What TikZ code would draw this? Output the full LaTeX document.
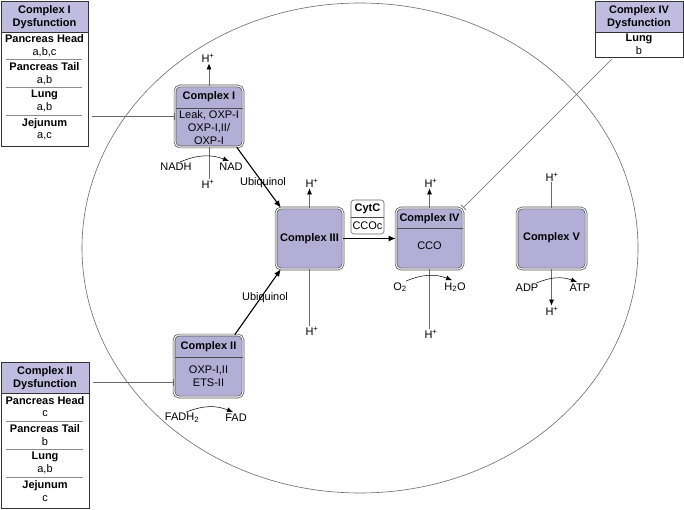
\documentclass[tikz,border=0pt]{standalone}
\usepackage{fontspec}
\setmainfont{Liberation Sans}
\usepackage{tikz}
\usetikzlibrary{positioning,arrows.meta}

\definecolor{cplxfill}{RGB}{179,174,213}
\definecolor{hdrfill}{RGB}{192,188,224}
\definecolor{linegray}{RGB}{105,105,105}

\tikzset{
  txt/.style={font=\fontsize{11}{13}\selectfont, inner sep=1pt},
  bold/.style={font=\fontsize{11}{13}\selectfont\bfseries, inner sep=1pt},
  cplx/.style={draw=black!70, double=white, double distance=1.1pt, line width=0.7pt, fill=cplxfill, rounded corners=5pt, inner sep=0pt},
  tab/.style={draw=black!80, line width=0.6pt, fill=white, inner sep=0pt},
  sep/.style={draw=black!70, line width=0.5pt},
  tabsep/.style={draw=black!45, line width=0.8pt},
  flow/.style={-{Latex[length=7pt,width=6pt]}, line width=1.1pt},
  hplus/.style={-{Latex[length=6pt,width=5pt,color=black]}, linegray, line width=0.6pt},
  hline/.style={linegray, line width=0.6pt},
  inhib/.style={-{Bar[width=7pt]}, linegray, line width=0.6pt},
  swap/.style={-{Latex[length=6pt,width=5pt]}, black, line width=0.5pt},
}

\begin{document}
\begin{tikzpicture}[x=1pt,y=-1pt]
\useasboundingbox (0,0) rectangle (684,510);

\draw[linegray, line width=0.6pt] (360,248) ellipse [x radius=278, y radius=245]; % membrane

% complexes
\node[cplx, minimum width=68pt, minimum height=61pt] (c1) at (209,116.5) {};
\node[cplx, minimum width=69pt, minimum height=62pt] (c2) at (208.5,366) {};
\node[cplx, minimum width=67pt, minimum height=61pt] (c3) at (309.5,238.5) {};
\node[cplx, minimum width=67pt, minimum height=61pt] (c4) at (429.5,238.5) {};
\node[cplx, minimum width=69pt, minimum height=61pt] (c5) at (551.5,238.5) {};
\draw[sep] (175.5,108) -- (242.5,108); % Complex I header
\draw[sep] (174.5,357) -- (242.5,357); % Complex II header
\draw[sep] (396.5,228) -- (462.5,228); % Complex IV header
\node[bold] (c1t) at (209,97) {Complex I};
\node[txt, align=center] (c1b) at (209,127.5) {Leak, OXP-I\\OXP-I,II/\\OXP-I};
\node[bold] (c2t) at (208.5,346.5) {Complex II};
\node[txt, align=center] (c2b) at (208.5,376) {OXP-I,II\\ETS-II};
\node[bold] (c3t) at (309.5,238.5) {Complex III};
\node[bold] (c4t) at (429.5,219) {Complex IV};
\node[txt] (c4b) at (429.5,246) {CCO};
\node[bold] (c5t) at (551.5,238) {Complex V};

% cytochrome c
\node[draw=black!60, line width=0.6pt, fill=white, rounded corners=3pt, minimum width=33pt, minimum height=34pt] (cytc) at (367.5,217) {};
\draw[sep] (351,217) -- (384,217);
\node[bold] (cytct) at (367.5,209) {CytC};
\node[txt] (cytcb) at (367.5,226) {CCOc};

% electron flow
\draw[flow] (c1.-48) -- (c3.133);
\draw[flow] (c2.50) -- (c3.227);
\draw[flow] (c3.east) -- (c4.west);
\node[txt] (ubq1) at (263,183) {Ubiquinol};
\node[txt] (ubq2) at (265,298) {Ubiquinol};

% Complex I
\node[txt] (h1o) at (208,58) {H\textsuperscript{+}};
\draw[hplus] (c1.north) -- (c1.north |- h1o.south);
\node[txt] (h1i) at (208,184) {H\textsuperscript{+}};
\draw[hline] (c1.south) -- (c1.south |- h1i.north);
\node[txt] (nadh) at (176,167) {NADH};
\node[txt] (nad) at (231,167) {NAD};
\draw[swap] ([xshift=4pt]nadh.north) to[bend left=22] ([shift={(-2pt,1pt)}]nad.north);

% Complex II
\node[txt] (fadh) at (182,418) {FADH\textsubscript{2}};
\node[txt] (fad) at (236,418) {FAD};
\draw[swap] ([xshift=4pt]fadh.north) to[bend left=22] ([shift={(-3pt,1pt)}]fad.north);

% Complex III
\node[txt] (h3o) at (312,183) {H\textsuperscript{+}};
\draw[hplus] (c3.north) -- (c3.north |- h3o.south);
\node[txt] (h3i) at (312,331) {H\textsuperscript{+}};
\draw[hline] (c3.south) -- (c3.south |- h3i.north);

% Complex IV
\node[txt] (h4o) at (431,183) {H\textsuperscript{+}};
\draw[hplus] (c4.north) -- (c4.north |- h4o.south);
\node[txt] (h4i) at (431,334) {H\textsuperscript{+}};
\draw[hline] (c4.south) -- (c4.south |- h4i.north);
\node[txt] (o2) at (400,287) {O\textsubscript{2}};
\node[txt] (h2o) at (455,287) {H\textsubscript{2}O};
\draw[swap] ([xshift=-2pt]o2.north east) to[bend left=22] ([shift={(-3pt,1pt)}]h2o.north);

% Complex V
\node[txt] (h5o) at (552,177) {H\textsuperscript{+}};
\draw[hline] (c5.north) -- (c5.north |- h5o.south);
\node[txt] (h5i) at (552,311) {H\textsuperscript{+}};
\draw[hplus] (c5.south) -- (c5.south |- h5i.north);
\node[txt] (adp) at (527,288) {ADP};
\node[txt] (atp) at (580,288) {ATP};
\draw[swap] ([xshift=-3pt]adp.north east) to[bend left=22] ([shift={(-3pt,1pt)}]atp.north);

% Complex I dysfunction table
\node[tab, minimum width=87pt, minimum height=145pt] (tab1) at (44.5,73.5) {};
\draw[tab, fill=hdrfill] (1,1) rectangle (88,32);
\node[bold, align=center] (tab1h) at (44.5,17) {Complex I\\Dysfunction};
\node[bold] (t1r1) at (44.5,38.5) {Pancreas Head};
\node[txt] (t1v1) at (44.5,52) {a,b,c};
\draw[tabsep] (6,59) -- (82,59);
\node[bold] (t1r2) at (44.5,67) {Pancreas Tail};
\node[txt] (t1v2) at (44.5,80) {a,b};
\draw[tabsep] (6,87.5) -- (82,87.5);
\node[bold] (t1r3) at (44.5,95) {Lung};
\node[txt] (t1v3) at (44.5,107.5) {a,b};
\draw[tabsep] (6,115.5) -- (82,115.5);
\node[bold] (t1r4) at (44.5,123.5) {Jejunum};
\node[txt] (t1v4) at (44.5,136.5) {a,c};

% Complex II dysfunction table
\node[tab, minimum width=88pt, minimum height=146pt] (tab2) at (45,435) {};
\draw[tab, fill=hdrfill] (1,362) rectangle (89,393);
\node[bold, align=center] (tab2h) at (45,378) {Complex II\\Dysfunction};
\node[bold] (t2r1) at (45,401) {Pancreas Head};
\node[txt] (t2v1) at (45,414) {c};
\draw[tabsep] (6,421) -- (83,421);
\node[bold] (t2r2) at (45,429) {Pancreas Tail};
\node[txt] (t2v2) at (45,442) {b};
\draw[tabsep] (6,449) -- (83,449);
\node[bold] (t2r3) at (45,457) {Lung};
\node[txt] (t2v3) at (45,469) {a,b};
\draw[tabsep] (6,477) -- (83,477);
\node[bold] (t2r4) at (45,486) {Jejunum};
\node[txt] (t2v4) at (45,499) {c};

% Complex IV dysfunction table
\node[tab, minimum width=88pt, minimum height=56pt] (tab4) at (639,29) {};
\draw[tab, fill=hdrfill] (595,1) rectangle (683,32);
\node[bold, align=center] (tab4h) at (639,17) {Complex IV\\Dysfunction};
\node[bold] (t4r1) at (639,38.5) {Lung};
\node[txt] (t4v1) at (639,51) {b};

% inhibition
\coordinate (c2in) at ([yshift=-16pt]c2.west);
\draw[inhib, shorten <=4pt] (tab1.east |- c1.west) -- (c1.west);
\draw[inhib, shorten <=4pt] (tab2.east |- c2in) -- (c2in);
\draw[inhib] ([shift={(17pt,-2pt)}]tab4.south west) -- (c4.north east);
\end{tikzpicture}
\end{document}
